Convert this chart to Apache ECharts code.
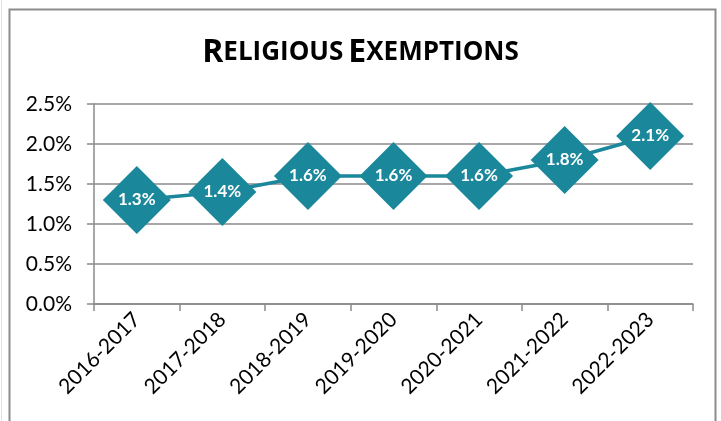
<!DOCTYPE html>
<html>
<head>
<meta charset="utf-8">
<script src="https://cdn.jsdelivr.net/npm/echarts@6/dist/echarts.min.js"></script>
<style>
  html, body { margin: 0; padding: 0; background: #fff; }
  #chart { width: 721px; height: 421px; }
</style>
</head>
<body>
<div id="chart"></div>
<script>
// 学年
var years = ['2016-2017', '2017-2018', '2018-2019', '2019-2020', '2020-2021', '2021-2022', '2022-2023'];
// 宗教豁免比例 (%)
var rates = [1.3, 1.4, 1.6, 1.6, 1.6, 1.8, 2.1];
// 纵轴刻度 (%)
var yMin = 0, yMax = 2.5, yStep = 0.5;

var teal = '#1b879b';
var grey = '#8a8a8a';

var chart = echarts.init(document.getElementById('chart'));

var option = {
    backgroundColor: '#fff',
    title: {
        text: '{b|R}{s|ELIGIOUS} {b|E}{s|XEMPTIONS}',
        left: 'center',
        top: 32,
        textStyle: {
            rich: {
                b: { fontFamily: 'Open Sans', fontWeight: 'bold', fontSize: 32, color: '#000' },
                s: { fontFamily: 'Open Sans', fontWeight: 'bold', fontSize: 26, color: '#000' }
            }
        }
    },
    grid: {
        left: 94,
        right: 28,
        top: 104,
        bottom: 117
    },
    xAxis: {
        type: 'category',
        data: years,
        boundaryGap: true,
        axisLine: { lineStyle: { color: grey, width: 1.5 } },
        axisTick: { show: true, length: 7, lineStyle: { color: grey, width: 1.5 } },
        axisLabel: {
            rotate: 45,
            margin: 12,
            color: '#000',
            fontFamily: 'Lato',
            fontSize: 21,
            interval: 0
        }
    },
    yAxis: {
        type: 'value',
        min: yMin,
        max: yMax,
        interval: yStep,
        axisLine: { show: true, lineStyle: { color: grey, width: 1.5 } },
        axisTick: { show: true, length: 7, lineStyle: { color: grey, width: 1.5 } },
        splitLine: { lineStyle: { color: grey, width: 1.5 } },
        axisLabel: {
            margin: 22,
            color: '#000',
            fontFamily: 'Lato',
            fontSize: 21,
            formatter: function (v) { return v.toFixed(1) + '%'; }
        }
    },
    series: [{
        type: 'line',
        data: rates,
        symbol: 'diamond',
        symbolSize: 68,
        lineStyle: { color: teal, width: 3.5 },
        itemStyle: { color: teal },
        label: {
            show: true,
            position: 'inside',
            color: '#fff',
            fontFamily: 'Lato',
            fontWeight: 'bold',
            fontSize: 17,
            formatter: function (p) { return p.value.toFixed(1) + '%'; }
        },
        animation: false
    }],
    graphic: [
        {
            type: 'rect',
            shape: { x: 9.5, y: 9.5, width: 706, height: 430 },
            style: { fill: null, stroke: '#8c8c8c', lineWidth: 2 },
            silent: true
        },
        {
            type: 'line',
            shape: { x1: 1.5, y1: 0, x2: 1.5, y2: 421 },
            style: { stroke: '#e0e0e0', lineWidth: 1 },
            silent: true
        }
    ],
    animation: false
};

chart.setOption(option);
</script>
</body>
</html>
